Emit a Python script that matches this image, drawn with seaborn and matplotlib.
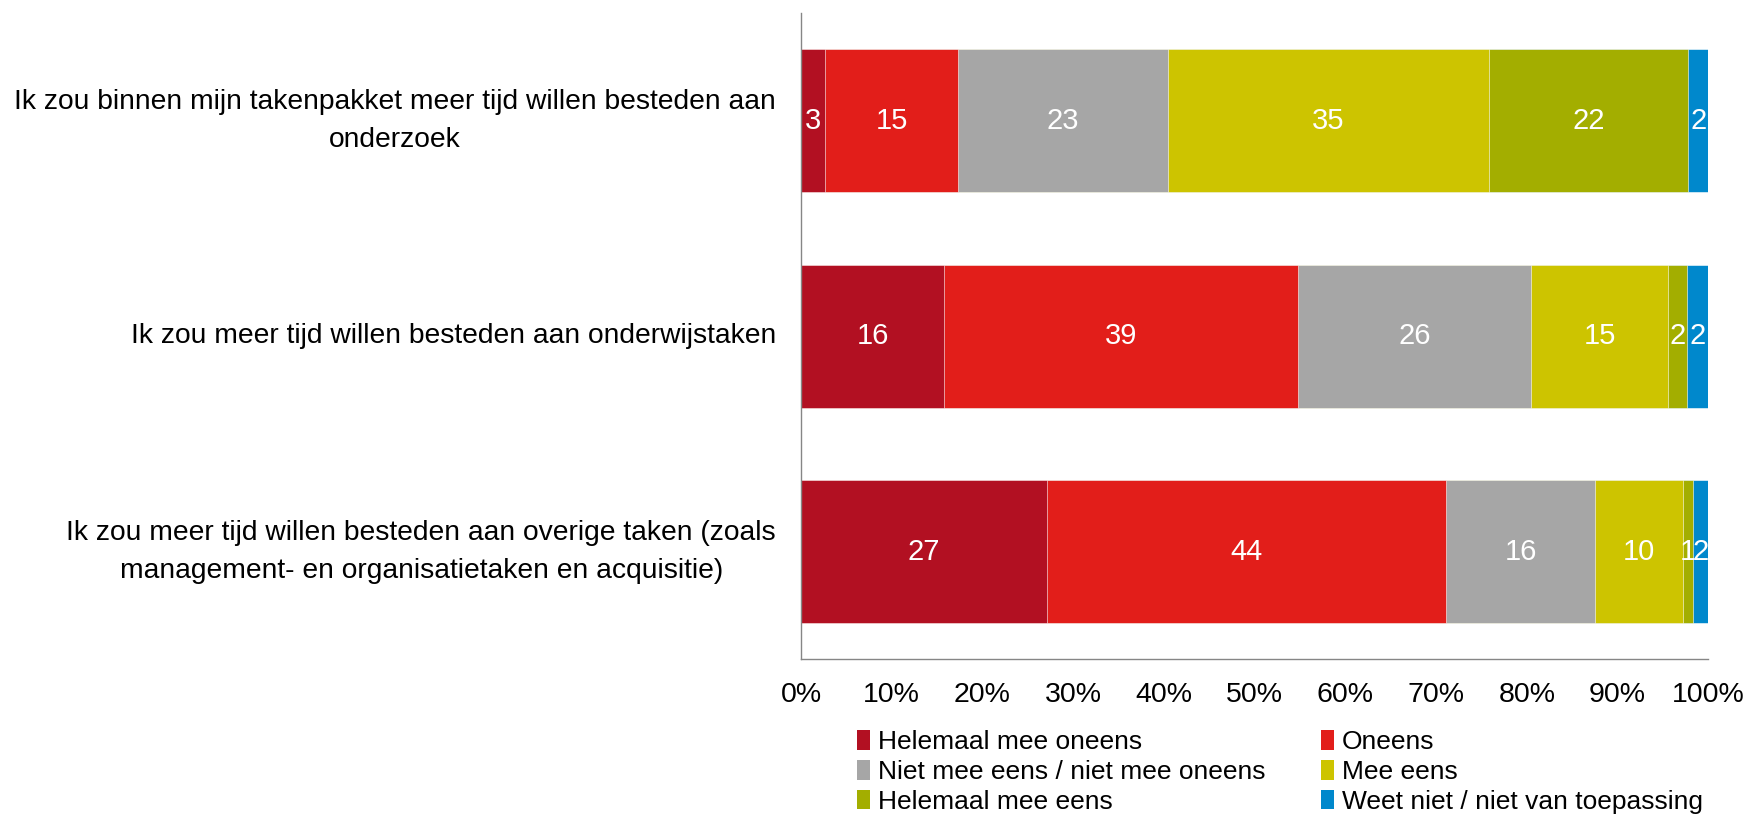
import numpy as np
import pandas as pd
import seaborn as sns
import matplotlib.pyplot as plt
from matplotlib.patches import Patch

statements = [
    "Ik zou binnen mijn takenpakket meer tijd willen besteden aan\nonderzoek",
    "Ik zou meer tijd willen besteden aan onderwijstaken",
    "Ik zou meer tijd willen besteden aan overige taken (zoals\nmanagement- en organisatietaken en acquisitie)",
]
answers = [
    "Helemaal mee oneens",
    "Oneens",
    "Niet mee eens / niet mee oneens",
    "Mee eens",
    "Helemaal mee eens",
    "Weet niet / niet van toepassing",
]
helemaal_oneens = [2.7, 15.8, 27.1]
oneens = [14.6, 39.0, 44.0]
neutraal = [23.1, 25.7, 16.4]
eens = [35.4, 15.1, 9.7]
helemaal_eens = [22.0, 2.0, 1.1]
weet_niet = [2.2, 2.4, 1.7]

colors = ["#B21022", "#E21E1A", "#A6A6A6", "#CDC400", "#A3AE00", "#0088CC"]

df = pd.DataFrame(
    np.array([helemaal_oneens, oneens, neutraal, eens, helemaal_eens, weet_niet]).T,
    columns=answers, index=statements)
cum = df.cumsum(axis=1)

sns.set_style("white")
plt.rcParams["font.family"] = ["Liberation Sans", "DejaVu Sans"]
plt.rcParams["text.color"] = "black"
plt.rcParams["xtick.labelcolor"] = "black"
plt.rcParams["ytick.labelcolor"] = "black"

fig = plt.figure(figsize=(17.45, 8.15), dpi=100)
ax = fig.add_axes([0.459, 0.191, 0.520, 0.793])

# stacked bars: draw cumulative totals from the widest down
for i in range(len(answers) - 1, -1, -1):
    sns.barplot(x=cum[answers[i]].values, y=statements, color=colors[i],
                saturation=1, width=0.665, orient="h", ax=ax,
                edgecolor="white", linewidth=0.4)

for i, ans in enumerate(answers):
    for j in range(len(statements)):
        v = df[ans].iloc[j]
        ax.text(cum[ans].iloc[j] - v / 2, j, f"{v:.0f}", ha="center", va="center",
                color="white", fontsize=21)

ax.set_xlim(0, 100)
ax.set_ylim(2.5, -0.5)
ax.set_xticks(range(0, 101, 10))
ax.set_xticklabels([f"{t}%" for t in range(0, 101, 10)])
ax.set_yticks([-0.5, 0.5, 1.5, 2.5], minor=True)
ax.tick_params(axis="y", which="major", length=0, pad=18, labelsize=20.3)
ax.tick_params(axis="y", which="minor", length=7, color="#868686", width=1)
ax.tick_params(axis="x", length=7, color="#868686", width=1, pad=9, labelsize=20.5)
for lab in ax.get_yticklabels():
    lab.set_multialignment("center")
    lab.set_linespacing(1.6)
    lab.set_verticalalignment("center")
ax.set_xlabel("")
ax.set_ylabel("")
for s in ["top", "right"]:
    ax.spines[s].set_visible(False)
for s in ["left", "bottom"]:
    ax.spines[s].set_color("#868686")
    ax.spines[s].set_linewidth(1)

handles = [Patch(facecolor=c, edgecolor="none") for c in colors]
order = [0, 2, 4, 1, 3, 5]
fig.legend([handles[k] for k in order], [answers[k] for k in order], ncol=2,
           loc="upper left", bbox_to_anchor=(0.491, 0.104), frameon=False,
           fontsize=19, handlelength=0.5, handleheight=0.75,
           handletextpad=0.3, columnspacing=2.1, labelspacing=0.22,
           borderpad=0, borderaxespad=0)

fig.savefig("out.png", dpi=100)
